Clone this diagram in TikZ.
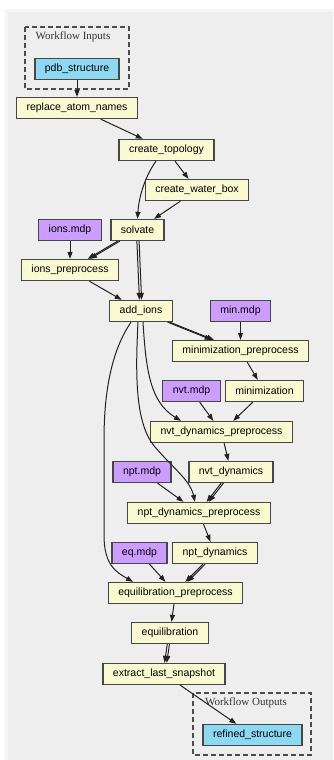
\documentclass[tikz,border=0pt]{standalone}
\usepackage{fontspec}
\setmainfont{Liberation Serif}
\newfontfamily\sansnode{Liberation Sans}
\usetikzlibrary{arrows.meta}

\definecolor{stepfill}{HTML}{FAFAD2}
\definecolor{iofill}{HTML}{8DD8F2}
\definecolor{mdpfill}{HTML}{CC9CFF}
\definecolor{panelgray}{HTML}{EEEEEE}
\definecolor{edgegray}{HTML}{222222}

\tikzset{
  task/.style={draw=black!72, line width=1.3pt, fill=stepfill, minimum height=21pt,
    inner xsep=10pt, inner ysep=0pt, font=\sansnode\fontsize{10.5}{12}\selectfont},
  iofile/.style={task, fill=iofill},
  mdpfile/.style={task, fill=mdpfill},
  flow/.style={draw=edgegray, line width=1pt, -{Triangle[length=7pt,width=5pt]}},
  twinl/.style={flow, transform canvas={xshift=-1.1pt}},
  twinr/.style={flow, transform canvas={xshift=1.1pt}},
  cluster/.style={draw=black!70, line width=1.2pt, dash pattern=on 5pt off 3pt},
  clusterlabel/.style={font=\fontsize{11}{13}\selectfont, text=black!80}
}

\begin{document}
\begin{tikzpicture}[x=1pt,y=-1pt]
                \useasboundingbox (0,0) rectangle (333,760);
                \fill[white] (0,0) rectangle (333,760);
                \fill[black!4] (5,9) rectangle (333,760);
                \fill[panelgray] (8,12) rectangle (333,760);

                % clusters
                \draw[cluster] (25,27) rectangle (129,89);
                \node[clusterlabel] (inlabel) at (73,37) {Workflow Inputs};
                \draw[cluster] (193,693) rectangle (311,755);
                \node[clusterlabel] (outlabel) at (246,703) {Workflow Outputs};

                % nodes
                \node[iofile] (pdb) at (77,69) {pdb\_structure};
                \node[task] (replace) at (77,108) {replace\_atom\_names};
                \node[task] (topology) at (166.5,150) {create\_topology};
                \node[task] (waterbox) at (197,190) {create\_water\_box};
                \node[task] (solvate) at (137.5,230) {solvate};
                \node[mdpfile] (ionsmdp) at (70,230) {ions.mdp};
                \node[task] (ionspre) at (70,270) {ions\_preprocess};
                \node[task] (addions) at (141,311) {add\_ions};
                \node[mdpfile] (minmdp) at (240.5,311) {min.mdp};
                \node[task] (minpre) at (240.5,351) {minimization\_preprocess};
                \node[mdpfile] (nvtmdp) at (191.5,391) {nvt.mdp};
                \node[task] (minim) at (264.5,391) {minimization};
                \node[task] (nvtpre) at (221.5,432) {nvt\_dynamics\_preprocess};
                \node[mdpfile] (nptmdp) at (142,472) {npt.mdp};
                \node[task] (nvtdyn) at (231,472) {nvt\_dynamics};
                \node[task] (nptpre) at (199,513) {npt\_dynamics\_preprocess};
                \node[mdpfile] (eqmdp) at (139.5,553) {eq.mdp};
                \node[task] (nptdyn) at (215,553) {npt\_dynamics};
                \node[task] (eqpre) at (175.5,593) {equilibration\_preprocess};
                \node[task] (equil) at (170,633) {equilibration};
                \node[task] (extract) at (164,674) {extract\_last\_snapshot};
                \node[iofile] (refined) at (252.5,735) {refined\_structure};

                % edges
                \draw[flow] (pdb) -- (replace);
                \draw[flow] (replace) -- (topology);
                \draw[flow] (topology) -- (waterbox);
                \draw[flow] ([xshift=-10.5pt]topology.south) .. controls (146,175) and (139,195) .. (solvate.north);
                \draw[flow] (waterbox) -- (solvate);
                \draw[twinl] (solvate) -- (ionspre);
                \draw[twinr] (solvate) -- (ionspre);
                \draw[flow] (ionsmdp) -- (ionspre);
                \draw[twinl] (solvate) -- (addions);
                \draw[twinr] (solvate) -- (addions);
                \draw[flow] (ionspre) -- (addions);
                \draw[twinl] (addions) -- (minpre);
                \draw[twinr] (addions) -- (minpre);
                \draw[flow] (minmdp) -- (minpre);
                \draw[flow] (minpre) -- (minim);
                \draw[flow] ([xshift=2pt]addions.south) .. controls (146,370) and (150,402) .. ([xshift=-40.5pt]nvtpre.north);
                \draw[flow] (nvtmdp) -- (nvtpre);
                \draw[flow] (minim) -- (nvtpre);
                \draw[flow] (nvtpre) -- (nvtdyn);
                \draw[flow] ([xshift=-3pt]addions.south) .. controls (135,380) and (136,425) .. (155,447)
                    .. controls (172,467) and (190,480) .. ([xshift=-4pt]nptpre.north);
                \draw[flow] (nptmdp) -- (nptpre);
                \draw[twinl] (nvtdyn) -- (nptpre);
                \draw[twinr] (nvtdyn) -- (nptpre);
                \draw[flow] (nptpre) -- (nptdyn);
                \draw[flow] ([xshift=-10pt]addions.south) .. controls (112,350) and (104,390) .. (104,440)
                    -- (104,535) .. controls (104,565) and (116,572) .. ([xshift=-42.5pt]eqpre.north);
                \draw[flow] (eqmdp) -- (eqpre);
                \draw[twinl] (nptdyn) -- (eqpre);
                \draw[twinr] (nptdyn) -- (eqpre);
                \draw[flow] (eqpre) -- (equil);
                \draw[twinl] (equil) -- (extract);
                \draw[twinr] (equil) -- (extract);
                \draw[flow] (extract) -- (refined);
            \end{tikzpicture}
\end{document}
